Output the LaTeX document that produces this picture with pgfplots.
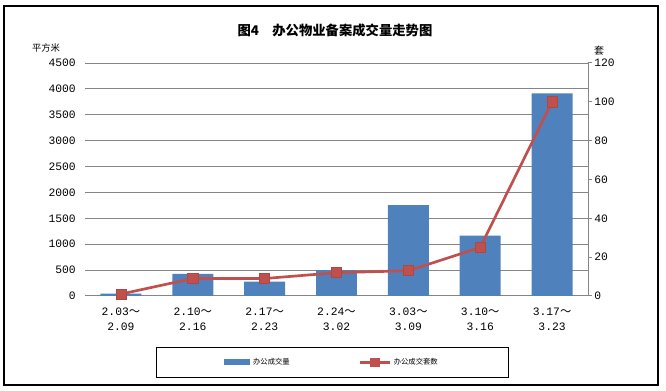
\documentclass[border=0pt]{standalone}
\usepackage{pgfplots}
\pgfplotsset{compat=1.18}
\usepackage{fontspec}
\setmainfont{Liberation Mono}
\newfontfamily\cjk{Noto Sans CJK SC}
\definecolor{barblue}{HTML}{4F81BD}
\definecolor{linered}{HTML}{C0504D}
\definecolor{gridgray}{HTML}{868686}
\pgfplotsset{
  redleg/.style={legend image code/.code={\draw[mark repeat=2,mark phase=2,##1] plot coordinates {(0pt,0pt)(11pt,0pt)(22pt,0pt)};}},
  blueleg/.style={legend image code/.code={\fill[barblue] (0pt,-2.25pt) rectangle (19.5pt,2.25pt);}}
}
\begin{document}
\begin{tikzpicture}[x=0.75pt,y=0.75pt]
\useasboundingbox (0,0) rectangle (666,391);
\draw[line width=1.5pt] (4,385) rectangle (658,6);
\node[font=\cjk\fontsize{10}{12}\selectfont\bfseries] at (335,361) {图4\hspace{1em}办公物业备案成交量走势图};
\node[font=\cjk\fontsize{7}{8}\selectfont] at (46,343) {平方米};
\node[font=\cjk\fontsize{7.5}{8}\selectfont] at (599,340) {套};
\begin{axis}[
  at={(63.75pt,71.25pt)}, anchor=south west, scale only axis,
  width=377.25pt, height=174.75pt,
  xmin=-0.5, xmax=6.5, ymin=0, ymax=4500,
  ytick={0,500,...,4500},
  /pgf/number format/assume math mode=true,
  /pgf/number format/1000 sep={},
  axis x line*=bottom, axis y line*=left,
  y axis line style={draw=none},
  x axis line style={gridgray, line width=0.75pt},
  ymajorgrids, grid style={gridgray, line width=0.75pt},
  ytick style={draw=none}, xtick style={draw=none},
  yticklabel style={font=\fontsize{8.5}{10}\selectfont, inner sep=0pt, xshift=-6.75pt},
  xtick={0,...,6},
  xticklabels={{2.03{\cjk ～}\\2.09},{2.10{\cjk ～}\\2.16},{2.17{\cjk ～}\\2.23},{2.24{\cjk ～}\\3.02},{3.03{\cjk ～}\\3.09},{3.10{\cjk ～}\\3.16},{3.17{\cjk ～}\\3.23}},
  xticklabel style={font=\fontsize{8.5}{11.5}\selectfont, align=center, inner sep=0pt, yshift=-8.5pt},
  legend columns=2,
  legend style={at={(0.141,-0.219)}, anchor=north west, draw=black, line width=0.8pt,
    font=\cjk\fontsize{5.5}{6}\selectfont, inner xsep=51pt, inner ysep=6pt,
    /tikz/every even column/.append style={column sep=50pt}},
]
\addplot[ybar, bar width=0.57, fill=barblue, draw=none, blueleg]
  coordinates {(0,45) (1,425) (2,276) (3,502) (4,1755) (5,1165) (6,3915)};
\addlegendentry{办公成交量}
\addlegendimage{linered, line width=2pt, mark=square*, mark size=2.5pt,
  mark options={fill=linered, draw=linered}, redleg}
\addlegendentry{办公成交套数}
\end{axis}
\begin{axis}[
  at={(63.75pt,71.25pt)}, anchor=south west, scale only axis,
  width=377.25pt, height=174.75pt,
  xmin=-0.5, xmax=6.5, ymin=0, ymax=120,
  ytick={0,20,...,120},
  /pgf/number format/assume math mode=true,
  axis y line*=right, axis x line=none,
  y axis line style={gridgray, line width=0.75pt},
  ytick style={gridgray, line width=0.75pt},
  tick align=outside, major tick length=3pt,
  yticklabel style={font=\fontsize{8.5}{10}\selectfont, inner sep=0pt, xshift=1.5pt},
]
\addplot[linered, line width=2pt, mark=square*, mark size=3.8pt,
  mark options={fill=linered, draw=linered!90!black, line width=0.5pt}]
  coordinates {(0,1) (1,9) (2,9) (3,12) (4,13) (5,25) (6,100)};
\end{axis}
\end{tikzpicture}
\end{document}
